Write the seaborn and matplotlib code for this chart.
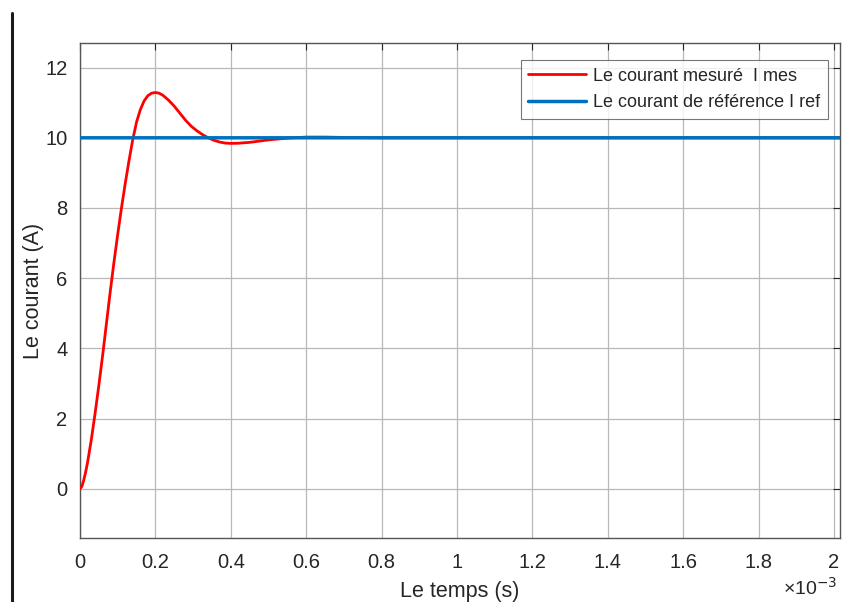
import seaborn as sns
import matplotlib.pyplot as plt
import matplotlib.lines as mlines
import pandas

# times in ms (axis shown with x10^-3 factor)
t_mes = [0, 0.005, 0.01, 0.015, 0.02, 0.03, 0.04, 0.05, 0.06, 0.07, 0.08, 0.09,
         0.10, 0.11, 0.12, 0.13, 0.14, 0.15, 0.16, 0.17, 0.18, 0.19, 0.20, 0.21,
         0.22, 0.235, 0.25, 0.265, 0.28, 0.295, 0.31, 0.325, 0.34, 0.355, 0.37,
         0.385, 0.40, 0.42, 0.45, 0.50, 0.55, 0.60, 0.65, 0.70, 0.80, 1.0, 1.5, 2.02]
i_mes = [0, 0.07, 0.25, 0.48, 0.75, 1.4, 2.15, 2.95, 3.8, 4.7, 5.6, 6.45,
         7.25, 8.0, 8.7, 9.35, 9.95, 10.45, 10.8, 11.05, 11.2, 11.27, 11.29, 11.27,
         11.21, 11.07, 10.9, 10.7, 10.5, 10.33, 10.2, 10.09, 10.0, 9.93, 9.88,
         9.85, 9.84, 9.845, 9.87, 9.94, 9.99, 10.02, 10.02, 10.01, 10.0, 10.0, 10.0, 10.0]
t_ref = [0, 2.02]
i_ref = [10, 10]

x_ticks = [0, 0.2, 0.4, 0.6, 0.8, 1.0, 1.2, 1.4, 1.6, 1.8, 2.0]
x_labels = ['0', '0.2', '0.4', '0.6', '0.8', '1', '1.2', '1.4', '1.6', '1.8', '2']
y_ticks = [0, 2, 4, 6, 8, 10, 12]

sns.set_style("whitegrid")
plt.rcParams['font.family'] = ['Liberation Sans', 'DejaVu Sans']

df_mes = pandas.DataFrame({'t': [v * 1e-3 for v in t_mes], 'i': i_mes})
df_ref = pandas.DataFrame({'t': [v * 1e-3 for v in t_ref], 'i': i_ref})

fig = plt.figure(figsize=(8.44, 6.02), dpi=100)
ax = fig.add_axes([80 / 844, 64 / 602, 760 / 844, 495 / 602])

sns.lineplot(data=df_mes, x='t', y='i', ax=ax, color='#FF0000', linewidth=2.0,
             label='Le courant mesuré  I mes', sort=False, zorder=3, snap=False)
sns.lineplot(data=df_ref, x='t', y='i', ax=ax, color='#0072BD', linewidth=2.5,
             label='Le courant de référence I ref', zorder=4, snap=False)

ax.set_xlim(0, 2.016e-3)
ax.set_ylim(-1.4, 12.7)
ax.set_xticks([v * 1e-3 for v in x_ticks])
ax.set_xticklabels(x_labels)
ax.set_yticks(y_ticks)
ax.tick_params(axis='both', labelsize=14.5, colors='#262626', direction='in',
               length=5, width=0.8, top=True, right=True)
ax.tick_params(axis='x', pad=11)
ax.tick_params(axis='y', pad=9)
ax.grid(True, color='#b8b8b8', linewidth=0.9)
for s in ax.spines.values():
    s.set_color('#555555')
    s.set_linewidth(1.0)

ax.set_xlabel('Le temps (s)', fontsize=15.5, color='#262626', labelpad=6)
ax.set_ylabel('Le courant (A)', fontsize=15.5, color='#262626')
ax.yaxis.set_label_coords(-0.048, 0.5)
ax.text(0.996, -0.101, '×10$^{-3}$', transform=ax.transAxes, ha='right',
        va='center', fontsize=14, color='#262626')

leg = ax.legend(loc='upper right', bbox_to_anchor=(0.984, 0.965), fontsize=13,
                frameon=True, fancybox=False, edgecolor='#555555',
                handlelength=3.2, handletextpad=0.4, borderpad=0.4,
                labelspacing=0.55, borderaxespad=0.0)
leg.get_frame().set_linewidth(0.8)

fig.add_artist(mlines.Line2D([12 / 844, 12 / 844], [0, 589 / 602],
                             color='#1a1a1a', linewidth=2.2))

fig.savefig('out.png', dpi=100)
